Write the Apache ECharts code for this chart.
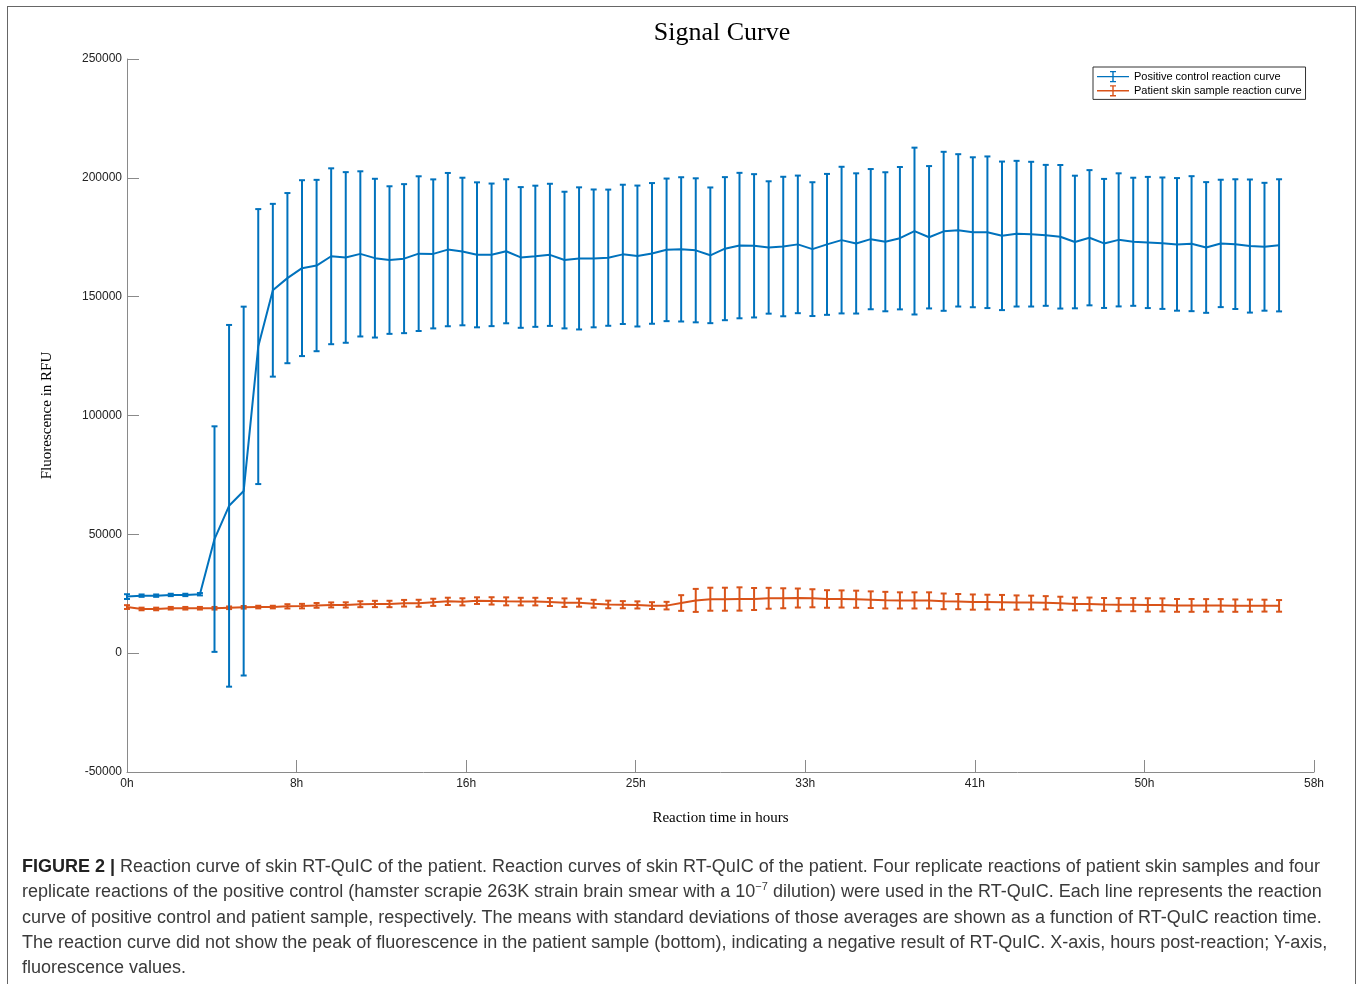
<!DOCTYPE html>
<html>
<head>
<meta charset="utf-8">
<script src="https://cdn.jsdelivr.net/npm/echarts@6/dist/echarts.min.js"></script>
<style>
  html, body { margin: 0; padding: 0; background: #fff; width: 1358px; height: 984px; overflow: hidden; }
  #frame { position: absolute; left: 7px; top: 6px; width: 1347px; height: 1100px;
           border-top: 1.5px solid #666; border-left: 1.5px solid #666; border-right: 1.5px solid #666; }
  #chart { position: absolute; left: 0; top: 0; width: 1358px; height: 984px; }
  #caption { position: absolute; left: 22px; top: 854px; width: 1310px;
             font-family: "Liberation Sans", Arial, sans-serif; font-size: 18px; line-height: 25.3px; color: #3a3a3a; }
  #caption div { white-space: nowrap; }
  #caption sup { font-size: 11px; vertical-align: 7px; line-height: 0; }
</style>
</head>
<body>
<div id="frame"></div>
<div id="chart"></div>
<div id="caption">
  <div><b style="color:#222">FIGURE 2 |</b> Reaction curve of skin RT-QuIC of the patient. Reaction curves of skin RT-QuIC of the patient. Four replicate reactions of patient skin samples and four</div>
  <div>replicate reactions of the positive control (hamster scrapie 263K strain brain smear with a 10<sup>−7</sup> dilution) were used in the RT-QuIC. Each line represents the reaction</div>
  <div>curve of positive control and patient sample, respectively. The means with standard deviations of those averages are shown as a function of RT-QuIC reaction time.</div>
  <div>The reaction curve did not show the peak of fluorescence in the patient sample (bottom), indicating a negative result of RT-QuIC. X-axis, hours post-reaction; Y-axis,</div>
  <div>fluorescence values.</div>
</div>
<script>
// ---- data ----
const sampleIntervalMin = 43; // minutes between readings
const xTickValuesMin = [0, 500, 1000, 1500, 2000, 2500, 3000, 3500];
const seriesNames = ['Positive control reaction curve', 'Patient skin sample reaction curve'];

const positiveMean = [
  23800, 24200, 24200, 24500, 24500, 24800, 48000, 62000, 68200, 129000,
  152700, 157800, 162000, 163100, 167000, 166500, 168000, 166200, 165400, 166000,
  168100, 168000, 169800, 169000, 167600, 167600, 169100, 166500, 167000, 167600,
  165400, 166100, 166100, 166400, 167800, 167100, 168200, 169700, 169900, 169500,
  167400, 170200, 171500, 171400, 170700, 171100, 172000, 170000, 172000, 173800,
  172400, 174200, 173100, 174600, 177600, 175000, 177500, 177900, 177100, 177100,
  175600, 176500, 176300, 175800, 175200, 173000, 174800, 172400, 173900, 173100,
  172800, 172500, 172000, 172300, 170700, 172400, 172100, 171300, 171000, 171600
];
const positiveSD = [
  1000, 500, 500, 500, 500, 500, 47450, 76100, 77600, 57850,
  36350, 35800, 37000, 36050, 37000, 35900, 34750, 33400, 31050, 31350,
  32550, 31350, 32250, 31050, 30500, 30000, 30300, 29600, 29700, 29900,
  28750, 29900, 29000, 28650, 29300, 29650, 29600, 30000, 30350, 30300,
  28550, 30100, 30600, 30150, 27850, 29350, 28950, 28150, 29650, 30850,
  29500, 29500, 29250, 29950, 35100, 29950, 33450, 32050, 31550, 31900,
  31250, 30650, 30450, 29650, 30200, 27900, 28450, 27150, 28000, 26950,
  27600, 27650, 27900, 28400, 27500, 26800, 27300, 28000, 26900, 27800
];
const patientMean = [
  19400, 18600, 18600, 18900, 18900, 18900, 18900, 19100, 19300, 19400,
  19400, 19700, 19800, 20100, 20300, 20300, 20600, 20700, 20700, 21000,
  21000, 21400, 21800, 21600, 22100, 22000, 21800, 21700, 21700, 21500,
  21250, 21250, 20800, 20500, 20400, 20300, 20000, 20000, 21100, 22200,
  22700, 22700, 22800, 22800, 23100, 23100, 23200, 23100, 22800, 22800,
  22700, 22500, 22300, 22200, 22200, 22200, 21800, 21700, 21500, 21500,
  21400, 21300, 21300, 21200, 21000, 20700, 20700, 20500, 20400, 20400,
  20300, 20300, 20100, 20100, 20100, 20100, 20000, 20000, 20000, 19900
];
const patientSD = [
  800, 550, 550, 550, 550, 550, 550, 550, 550, 550,
  550, 900, 950, 1000, 1050, 1100, 1250, 1330, 1350, 1400,
  1470, 1500, 1540, 1500, 1400, 1540, 1680, 1600, 1600, 1650,
  1800, 1700, 1650, 1600, 1500, 1500, 1450, 1600, 3300, 4840,
  4840, 4840, 4900, 4630, 4400, 4200, 4000, 3800, 3700, 3600,
  3600, 3500, 3500, 3400, 3400, 3400, 3300, 3200, 3200, 3100,
  3100, 3000, 2900, 2800, 2750, 2700, 2700, 2700, 2750, 2750,
  2800, 2750, 2700, 2700, 2650, 2650, 2600, 2550, 2500, 2450
];

// ---- build ----
const BLUE = '#0072BD', ORANGE = '#D95319';
const timeMin = positiveMean.map((_, i) => i * sampleIntervalMin);
const lineData = (m) => m.map((v, i) => [timeMin[i], v]);
const errData = (m, s) => m.map((v, i) => [timeMin[i], v - s[i], v + s[i]]);

function errRender(color) {
  return function (params, api) {
    const x = api.value(0), lo = api.value(1), hi = api.value(2);
    const a = api.coord([x, hi]), b = api.coord([x, lo]);
    const hw = 3;
    const st = { stroke: color, lineWidth: 2 };
    return { type: 'group', children: [
      { type: 'line', shape: { x1: a[0], y1: a[1], x2: b[0], y2: b[1] }, style: st },
      { type: 'line', shape: { x1: a[0] - hw, y1: a[1], x2: a[0] + hw, y2: a[1] }, style: st },
      { type: 'line', shape: { x1: b[0] - hw, y1: b[1], x2: b[0] + hw, y2: b[1] }, style: st }
    ]};
  };
}

const legendIcon = 'path://M0 5.3L32 5.3L32 6.7L0 6.7Z M15.3 1L16.7 1L16.7 11L15.3 11Z M13 0.4L19 0.4L19 1.7L13 1.7Z M13 10.3L19 10.3L19 11.6L13 11.6Z';
const axisGray = '#8a8a8a';

const chart = echarts.init(document.getElementById('chart'), null, { renderer: 'canvas' });
chart.setOption({
  backgroundColor: 'transparent',
  animation: false,
  title: {
    text: 'Signal Curve', left: 717, top: 15, textAlign: 'center',
    textStyle: { fontFamily: 'Liberation Serif', fontSize: 26, fontWeight: 'normal', color: '#000' }
  },
  legend: {
    orient: 'vertical', left: 1093, top: 67,
    padding: [4, 4, 3, 4], itemGap: 3, itemWidth: 32, itemHeight: 12,
    borderColor: '#333', borderWidth: 1, backgroundColor: '#fff',
    textStyle: { fontFamily: 'Liberation Sans', fontSize: 11, color: '#000' },
    data: [
      { name: seriesNames[0], icon: legendIcon, itemStyle: { color: BLUE } },
      { name: seriesNames[1], icon: legendIcon, itemStyle: { color: ORANGE } }
    ]
  },
  grid: { left: 127, top: 59, width: 1187, height: 713, containLabel: false },
  xAxis: {
    type: 'value', min: 0, max: 3500, interval: 500,
    name: 'Reaction time in hours', nameLocation: 'middle', nameGap: 39,
    nameTextStyle: { fontFamily: 'Liberation Serif', fontSize: 15, color: '#000' },
    axisLine: { show: true, onZero: false, lineStyle: { color: axisGray, width: 1 } },
    axisTick: { show: true, inside: true, length: 12, lineStyle: { color: axisGray } },
    axisLabel: { margin: 6, fontFamily: 'Liberation Sans', fontSize: 12, color: '#222',
      formatter: v => Math.floor(v / 60) + 'h', customValues: xTickValuesMin },
    splitLine: { show: false }
  },
  yAxis: {
    type: 'value', min: -50000, max: 250000, interval: 50000,
    name: 'Fluorescence in RFU', nameLocation: 'middle', nameGap: 72, nameRotate: 90,
    nameTextStyle: { fontFamily: 'Liberation Serif', fontSize: 15, color: '#000' },
    axisLine: { show: true, onZero: false, lineStyle: { color: axisGray, width: 1 } },
    axisTick: { show: true, inside: true, length: 12, lineStyle: { color: axisGray } },
    axisLabel: { margin: 5, fontFamily: 'Liberation Sans', fontSize: 12, color: '#222',
      formatter: v => String(v) },
    splitLine: { show: false }
  },
  series: [
    { name: seriesNames[1], type: 'custom', renderItem: errRender(ORANGE),
      data: errData(patientMean, patientSD), encode: { x: 0, y: [1, 2] }, z: 2, silent: true },
    { name: seriesNames[1], type: 'line', data: lineData(patientMean), showSymbol: false,
      lineStyle: { color: ORANGE, width: 2 }, itemStyle: { color: ORANGE }, z: 3 },
    { name: seriesNames[0], type: 'custom', renderItem: errRender(BLUE),
      data: errData(positiveMean, positiveSD), encode: { x: 0, y: [1, 2] }, z: 4, silent: true },
    { name: seriesNames[0], type: 'line', data: lineData(positiveMean), showSymbol: false,
      lineStyle: { color: BLUE, width: 2 }, itemStyle: { color: BLUE }, z: 5 }
  ]
});
</script>
</body>
</html>
